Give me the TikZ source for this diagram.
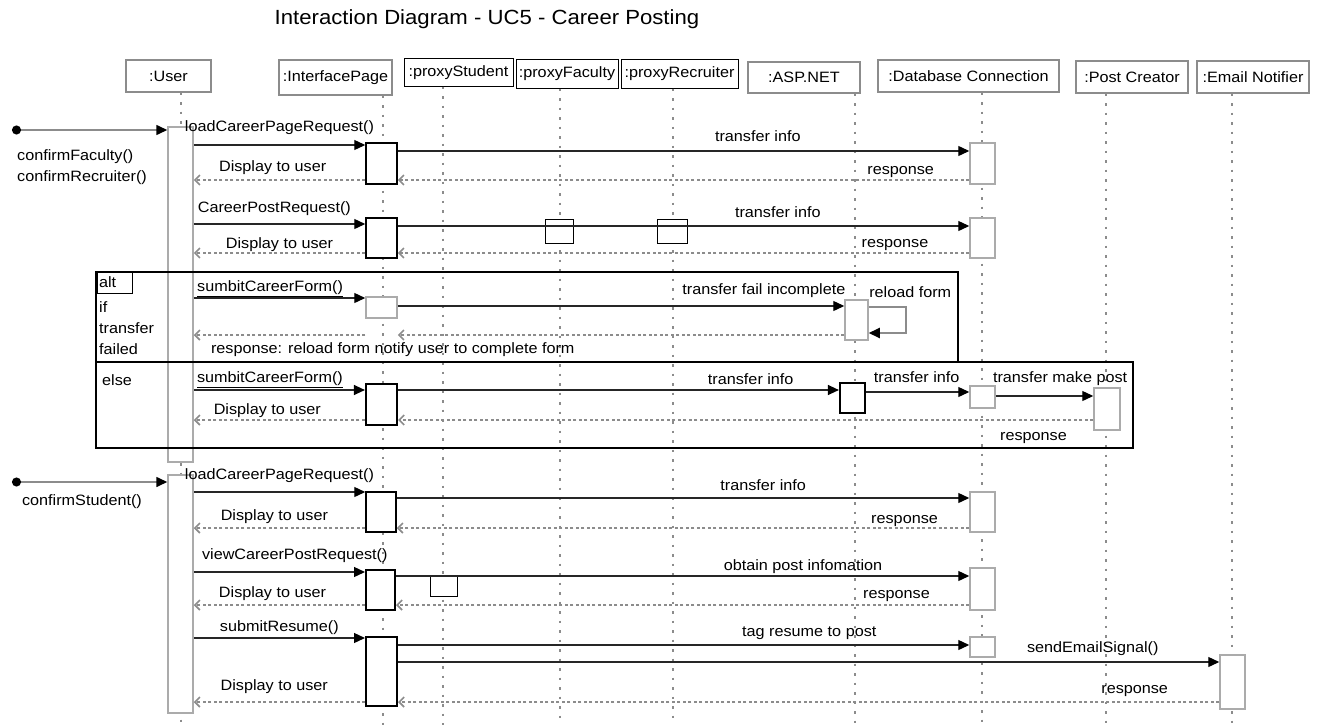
\documentclass[tikz,border=0pt]{standalone}
\usepackage{fontspec}
\setmainfont{Liberation Sans}[FakeStretch=1.08]
\usetikzlibrary{arrows.meta,positioning}
\definecolor{seqGray}{HTML}{8C8C8C}
\definecolor{seqLight}{HTML}{ABABAB}
\newcommand\seqfont{\fontsize{15}{19}\selectfont}

\begin{document}
\begin{tikzpicture}[x=1pt,y=-1pt,
 obj/.style={draw=seqGray,line width=1.4pt,fill=white,font=\seqfont,inner sep=2pt},
 proxy/.style={draw=black,line width=1pt,fill=white,font=\seqfont,inner sep=1pt},
 lifeline/.style={seqGray,line width=2pt,dash pattern=on 2.5pt off 7pt},
 act/.style={draw=black,line width=1.5pt,fill=white,inner sep=0pt,minimum width=25pt},
 actg/.style={act,draw=seqLight},
 frame/.style={draw=black,line width=2.8pt,inner sep=0pt},
 call/.style={-{Triangle[length=11pt,width=10pt,color=black]},line width=1.3pt,draw=black!85},
 ret/.style={-{Straight Barb[length=5pt,width=10pt]},line width=1.6pt,draw=seqGray,dash pattern=on 3pt off 2.5pt},
 found/.style={{Circle[length=9pt,color=black]}-{Triangle[length=11pt,width=10pt,color=black]},line width=1.6pt,draw=seqGray},
 lbl/.style={font=\seqfont,inner sep=1pt,text height=11pt,text depth=3pt},
 note/.style={font=\fontsize{15}{21}\selectfont,inner sep=1pt,align=left}
]
\useasboundingbox (0,0) rectangle (1319,725);

\node[font=\fontsize{20.5}{24}\selectfont] (title) at (487,19) {Interaction Diagram - UC5 - Career Posting};

% participants
\node[obj,minimum width=85pt,minimum height=32pt] (user) at (168.5,76) {:User};
\node[obj,minimum width=113pt,minimum height=35pt] (ipage) at (335.5,77.5) {:InterfacePage};
\node[proxy,minimum width=109pt,minimum height=27pt] (pstud) at (458.5,72.5) {:proxyStudent};
\node[proxy,minimum width=102pt,minimum height=28pt] (pfac) at (567,74) {:proxyFaculty};
\node[proxy,minimum width=117pt,minimum height=28pt] (prec) at (679.5,74) {:proxyRecruiter};
\node[obj,minimum width=112pt,minimum height=31pt] (asp) at (804,77.5) {:ASP.NET};
\node[obj,minimum width=181pt,minimum height=32pt] (dbc) at (968.5,76) {:Database Connection};
\node[obj,minimum width=112pt,minimum height=32pt] (post) at (1132,77) {:Post Creator};
\node[obj,minimum width=112pt,minimum height=32pt] (email) at (1253,77) {:Email Notifier};

% lifelines
\draw[lifeline] ([xshift=12.5pt]user.south) -- ++(0,633);
\draw[lifeline] ([xshift=47.5pt]ipage.south) -- ++(0,630);
\draw[lifeline] ([xshift=-15.5pt]pstud.south) -- ++(0,639);
\draw[lifeline] ([xshift=-7pt]pfac.south) -- ++(0,637);
\draw[lifeline] ([xshift=-6.5pt]prec.south) -- ++(0,637);
\draw[lifeline] ([xshift=51pt]asp.south) -- ++(0,632);
\draw[lifeline] ([xshift=13.5pt]dbc.south) -- ++(0,633);
\draw[lifeline] ([xshift=-26pt]post.south) -- ++(0,632);
\draw[lifeline] ([xshift=-21pt]email.south) -- ++(0,632);

% activations
\node[actg,minimum height=335pt] (ua1) at (180.5,294.5) {};
\node[actg,minimum height=238pt] (ua2) at (180.5,594) {};
\node[act,minimum width=31pt,minimum height=41pt] (ip1) at (381.5,163.5) {};
\node[act,minimum width=31pt,minimum height=40pt] (ip2) at (381.5,238) {};
\node[actg,minimum width=31pt,minimum height=21pt] (ip3) at (381.5,307.5) {};
\node[act,minimum width=31pt,minimum height=41pt,line width=2.2pt] (ip4) at (381.5,404.5) {};
\node[act,minimum width=30pt,minimum height=40pt] (ip5) at (381,512) {};
\node[act,minimum width=29pt,minimum height=40pt,line width=2pt] (ip6) at (380.5,590) {};
\node[act,minimum width=31pt,minimum height=69pt,line width=2pt] (ip7) at (381.5,671.5) {};
\node[actg,minimum height=41pt] (db1) at (982.5,163.5) {};
\node[actg,minimum height=40pt] (db2) at (982.5,238) {};
\node[actg,minimum height=22pt] (db3) at (982.5,397) {};
\node[actg,minimum height=40pt] (db4) at (982.5,512) {};
\node[actg,minimum height=42pt] (db5) at (982.5,589) {};
\node[actg,minimum height=20pt] (db6) at (982.5,647) {};
\node[act,line width=1pt,minimum width=28pt,minimum height=24pt] (pf1) at (559,231) {};
\node[act,line width=1pt,minimum width=30pt,minimum height=24pt] (pr1) at (672,231) {};
\node[act,line width=1pt,minimum width=27pt,minimum height=21pt] (ps1) at (443.5,585.5) {};
\node[actg,minimum width=23pt,minimum height=40pt] (asp1) at (856.5,320) {};
\node[act,minimum height=30pt,line width=2.2pt] (asp2) at (852.5,398) {};
\node[actg,minimum width=26pt,minimum height=42pt] (pc1) at (1107,409) {};
\node[actg,minimum height=54pt] (em1) at (1232.5,682) {};

% combined fragments
\node[frame,minimum width=862pt,minimum height=90pt] (altf) at (527,317) {};
\node[frame,minimum width=1037pt,minimum height=86pt] (elsef) at (614.5,405) {};
\node[draw=black,line width=1pt,anchor=north west,font=\seqfont,inner sep=2pt,text width=31pt,minimum height=22pt,align=left] (alttab) at ([xshift=2pt]altf.north west) {alt};
\node[note,anchor=north west] (altc) at (98,300) {if\\transfer\\failed};
\node[lbl,anchor=west] (elsel) at (101,381) {else};

% faculty / recruiter
\coordinate (f1) at (12,130);
\draw[found] (f1) -- (ua1.west |- f1);
\node[note,anchor=north west] (cf1) at (16,148) {confirmFaculty()\\confirmRecruiter()};
\draw[call] (ua1.east |- 0,145) -- node[lbl,above=9pt,pos=.5] (l1) {loadCareerPageRequest()} (ip1.west |- 0,145);
\draw[call] (ip1.east |- 0,151) -- node[lbl,above=5pt,pos=.63] (l2) {transfer info} (db1.west |- 0,151);
\draw[ret] (db1.west |- 0,180) -- node[lbl,above=1pt,pos=.12] (l3) {response} (ip1.east |- 0,180);
\draw[ret] (ip1.west |- 0,180) -- node[lbl,above=4pt,pos=.54] (l4) {Display to user} (ua1.east |- 0,180);
\draw[call] (ua1.east |- 0,224) -- node[lbl,above=7pt,pos=.47] (l5) {CareerPostRequest()} (ip2.west |- 0,224);
\draw[call] (ip2.east |- 0,226) -- node[lbl,above=4pt,pos=.665] (l6) {transfer info} (db2.west |- 0,226);
\draw[ret] (db2.west |- 0,253) -- node[lbl,above=1pt,pos=.13] (l7) {response} (ip2.east |- 0,253);
\draw[ret] (ip2.west |- 0,253) -- node[lbl,above=0pt,pos=.5] (l8) {Display to user} (ua1.east |- 0,253);

% alt: transfer failed
\draw[call] (ua1.east |- 0,298) -- node[lbl,above=2pt,pos=.445] (l9) {\underline{sumbitCareerForm()}} (ip3.west |- 0,298);
\draw[call] (ip3.east |- 0,306) -- node[lbl,above=7pt,pos=.82] (l10) {transfer fail incomplete} (asp1.west |- 0,306);
\draw[call,draw=seqGray,line width=2.2pt] (asp1.east |- 0,307) -| node[lbl,pos=.25,above=4pt,xshift=23pt] (l11) {reload form} ([xshift=37pt]asp1.east |- 0,333) -- (asp1.east |- 0,333);
\draw[ret] (asp1.west |- 0,335) -- node[lbl,below=6pt,pos=1,xshift=-5pt] (l12) {response: reload form notify user to complete form} (ip3.east |- 0,335);
\draw[ret] (ip3.west |- 0,335) -- (ua1.east |- 0,335);

% else
\draw[call] (ua1.east |- 0,390) -- node[lbl,above=3pt,pos=.445] (l13) {\underline{sumbitCareerForm()}} (ip4.west |- 0,390);
\draw[call] (ip4.east |- 0,390) -- node[lbl,above=1pt,pos=.8] (l14) {transfer info} (asp2.west |- 0,390);
\draw[call] (asp2.east |- 0,392) -- node[lbl,above=5pt,pos=.49] (l15) {transfer info} (db3.west |- 0,392);
\draw[call] (db3.east |- 0,396) -- node[lbl,above=9pt,pos=.66] (l16) {transfer make post} (pc1.west |- 0,396);
\draw[ret] (pc1.west |- 0,420) -- node[lbl,below=8pt,pos=.086] (l17) {response} (ip4.east |- 0,420);
\draw[ret] (ip4.west |- 0,420) -- node[lbl,above=1pt,pos=.57] (l18) {Display to user} (ua1.east |- 0,420);

% student
\coordinate (f2) at (12,482);
\draw[found] (f2) -- (ua2.west |- f2);
\node[lbl] (cs1) at (82,501) {confirmStudent()};
\draw[call] (ua2.east |- 0,492) -- node[lbl,above=8pt,pos=.5] (l19) {loadCareerPageRequest()} (ip5.west |- 0,492);
\draw[call] (ip5.east |- 0,498) -- node[lbl,above=3pt,pos=.64] (l20) {transfer info} (db4.west |- 0,498);
\draw[ret] (db4.west |- 0,528) -- node[lbl,above=0pt,pos=.113] (l21) {response} (ip5.east |- 0,528);
\draw[ret] (ip5.west |- 0,528) -- node[lbl,above=3pt,pos=.53] (l22) {Display to user} (ua2.east |- 0,528);
\draw[call] (ua2.east |- 0,572) -- node[lbl,above=8pt,pos=.59] (l23) {viewCareerPostRequest()} (ip6.west |- 0,572);
\draw[call] (ip6.east |- 0,576) -- node[lbl,above=1pt,pos=.71] (l24) {obtain post infomation} (db5.west |- 0,576);
\draw[ret] (db5.west |- 0,605) -- node[lbl,above=2pt,pos=.127] (l25) {response} (ip6.east |- 0,605);
\draw[ret] (ip6.west |- 0,605) -- node[lbl,above=3pt,pos=.54] (l26) {Display to user} (ua2.east |- 0,605);
\draw[call] (ua2.east |- 0,638) -- node[lbl,above=2pt,pos=.5] (l27) {submitResume()} (ip7.west |- 0,638);
\draw[call] (ip7.east |- 0,645) -- node[lbl,above=4pt,pos=.72] (l28) {tag resume to post} (db6.west |- 0,645);
\draw[call] (ip7.east |- 0,662) -- node[lbl,above=5pt,pos=.846] (l29) {sendEmailSignal()} (em1.west |- 0,662);
\draw[ret] (em1.west |- 0,702) -- node[lbl,above=4pt,pos=.103] (l30) {response} (ip7.east |- 0,702);
\draw[ret] (ip7.west |- 0,702) -- node[lbl,above=7pt,pos=.53] (l31) {Display to user} (ua2.east |- 0,702);
\end{tikzpicture}
\end{document}
